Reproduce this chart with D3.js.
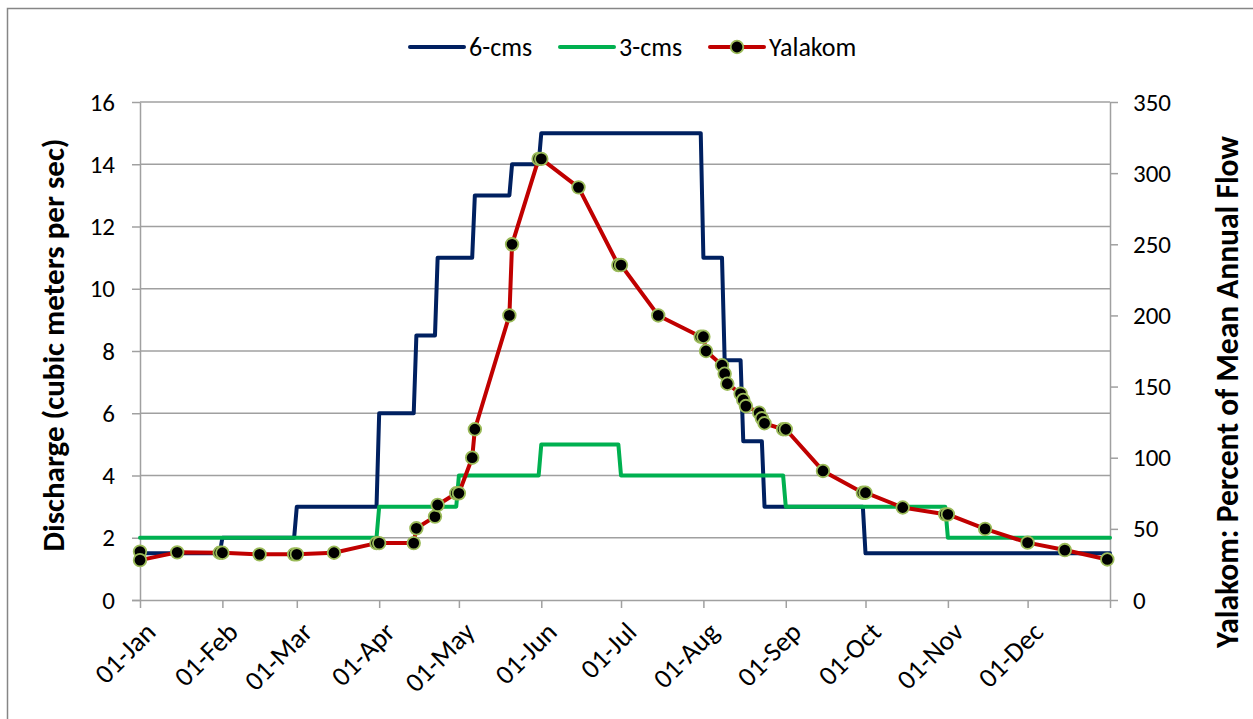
<!DOCTYPE html>
<html>
<head>
<meta charset="utf-8">
<script src="https://cdn.jsdelivr.net/npm/d3@7"></script>
<style>
  html, body { margin: 0; padding: 0; background: #fff; }
  svg { display: block; font-family: Carlito, Lato, "Open Sans", sans-serif; }
</style>
</head>
<body>
<svg id="chart" width="1253" height="719"></svg>
<script>
// Flow regimes: step changes [date the value starts, discharge in m³/s]
const steps6cms = [
  ["2013-01-01", 1.5], ["2013-02-01", 2], ["2013-03-01", 3], ["2013-04-01", 6],
  ["2013-04-15", 8.5], ["2013-04-23", 11], ["2013-05-07", 13], ["2013-05-21", 14],
  ["2013-06-01", 15], ["2013-08-01", 11], ["2013-08-09", 7.7], ["2013-08-16", 5.1],
  ["2013-08-24", 3], ["2013-10-01", 1.5]
];
const steps3cms = [
  ["2013-01-01", 2], ["2013-04-01", 3], ["2013-05-01", 4], ["2013-06-01", 5],
  ["2013-07-01", 4], ["2013-09-01", 3], ["2013-11-01", 2]
];
const yearEnd = "2014-01-01";

// Yalakom hydrograph: [date, percent of mean annual flow]
const yalakomDates = [
  "2013-01-01", "2013-01-01", "2013-01-15", "2013-01-31", "2013-02-01", "2013-02-15",
  "2013-02-28", "2013-03-01", "2013-03-15", "2013-03-31", "2013-04-01", "2013-04-14",
  "2013-04-15", "2013-04-22", "2013-04-23", "2013-04-30", "2013-05-01", "2013-05-06",
  "2013-05-07", "2013-05-20", "2013-05-21", "2013-05-31", "2013-06-01", "2013-06-15",
  "2013-06-30", "2013-07-01", "2013-07-15", "2013-07-31", "2013-08-01", "2013-08-02",
  "2013-08-08", "2013-08-09", "2013-08-10", "2013-08-15", "2013-08-16", "2013-08-17",
  "2013-08-22", "2013-08-23", "2013-08-24", "2013-08-31", "2013-09-01", "2013-09-15",
  "2013-09-30", "2013-10-01", "2013-10-15", "2013-10-31", "2013-11-01", "2013-11-15",
  "2013-12-01", "2013-12-15", "2013-12-31"
];
const yalakomPct = [
  34, 28, 33.5, 33.2, 33.2, 32.1,
  32.1, 32.1, 33.2, 40, 40, 40,
  50.4, 58.6, 66.8, 75, 75, 100,
  120, 200, 250, 310, 310, 290,
  235.4, 235.4, 200, 185, 185, 175,
  165, 159, 152, 145, 140.6, 136.3,
  131.6, 127.7, 124.2, 120, 120, 90.7,
  75.4, 75.4, 65, 60.2, 60.2, 50,
  40.3, 35.1, 28.5
];

const leftTicks = [0, 2, 4, 6, 8, 10, 12, 14, 16];
const rightTicks = [0, 50, 100, 150, 200, 250, 300, 350];
const leftTitle = "Discharge (cubic meters per sec)";
const rightTitle = "Yalakom: Percent of Mean Annual Flow";
const seriesNames = ["6-cms", "3-cms", "Yalakom"];
const colors = { "6-cms": "#002060", "3-cms": "#00B050", "Yalakom": "#C00000" };

const parse = d3.utcParse("%Y-%m-%d");
const fmt = d3.utcFormat("%d-%b");

const svg = d3.select("#chart");
const plot = { left: 140, right: 1110, top: 102, bottom: 600 };

const x = d3.scaleUtc()
  .domain([parse("2013-01-01"), parse(yearEnd)])
  .range([plot.left, plot.right]);
const yL = d3.scaleLinear().domain([0, 16]).range([plot.bottom, plot.top]);
const yR = d3.scaleLinear().domain([0, 350]).range([plot.bottom, plot.top]);

const gridCol = "#A0A0A0";
const fontSize = 25;
const xLabelSize = 27.5;
const legendSize = 26;
const titleSize = 31;

// outer chart frame
svg.append("rect")
  .attr("x", 7.5).attr("y", 8.5).attr("width", 1260).attr("height", 720)
  .attr("fill", "#fff").attr("stroke", "#868686").attr("stroke-width", 1.5);

// horizontal gridlines
svg.append("g").selectAll("line")
  .data(leftTicks.filter(d => d > 0))
  .join("line")
  .attr("x1", plot.left).attr("x2", plot.right)
  .attr("y1", d => yL(d)).attr("y2", d => yL(d))
  .attr("stroke", gridCol).attr("stroke-width", 1.5);

// axes
function styleAxis(g, size) {
  g.select(".domain").attr("stroke", gridCol).attr("stroke-width", 1.5);
  g.selectAll(".tick line").attr("stroke", gridCol).attr("stroke-width", 1.5);
  g.selectAll("text").attr("fill", "#000").style("font-size", size + "px")
    .style("font-family", "Carlito, Lato, 'Open Sans', sans-serif");
}

svg.append("g")
  .attr("transform", `translate(${plot.left},0)`)
  .call(d3.axisLeft(yL).tickValues(leftTicks).tickSize(8).tickPadding(17).tickSizeOuter(0))
  .call(styleAxis, fontSize);

svg.append("g")
  .attr("transform", `translate(${plot.right},0)`)
  .call(d3.axisRight(yR).tickValues(rightTicks).tickSize(8).tickPadding(15).tickSizeOuter(0))
  .call(styleAxis, fontSize);

const monthTicks = d3.utcMonth.range(parse("2013-01-01"), d3.utcDay.offset(parse(yearEnd), 1));
const gX = svg.append("g")
  .attr("transform", `translate(0,${plot.bottom})`)
  .call(d3.axisBottom(x).tickValues(monthTicks)
    .tickFormat(d => +d === +parse(yearEnd) ? "" : fmt(d))
    .tickSize(8).tickSizeOuter(0))
  .call(styleAxis, xLabelSize);
gX.select(".domain").attr("d", `M${plot.left - 8},0.5H${plot.right}`);
gX.selectAll(".tick text")
  .attr("text-anchor", "end")
  .attr("dy", "0.35em")
  .attr("transform", "translate(10,27) rotate(-45)")
  .attr("y", 0).attr("x", 0);

// axis titles
svg.append("text")
  .attr("transform", "translate(64,345) rotate(-90)")
  .attr("text-anchor", "middle")
  .style("font-size", titleSize + "px").style("font-weight", "bold")
  .text(leftTitle);
svg.append("text")
  .attr("transform", "translate(1238,392) rotate(-90)")
  .attr("text-anchor", "middle")
  .style("font-size", (titleSize + 0.5) + "px").style("font-weight", "bold")
  .text(rightTitle);

// step series: each change drawn as a one-day transition
function stepPoints(steps) {
  const pts = [];
  steps.forEach(([d, v], i) => {
    const t = parse(d);
    if (i > 0) pts.push([d3.utcDay.offset(t, -1), steps[i - 1][1]]);
    pts.push([t, v]);
  });
  pts.push([parse(yearEnd), steps[steps.length - 1][1]]);
  return pts;
}

const lineL = d3.line().x(d => x(d[0])).y(d => yL(d[1]));
const lineR = d3.line().x(d => x(d[0])).y(d => yR(d[1]));

svg.append("path")
  .attr("d", lineL(stepPoints(steps6cms)))
  .attr("fill", "none").attr("stroke", colors["6-cms"]).attr("stroke-width", 4)
  .attr("stroke-linejoin", "round").attr("stroke-linecap", "round");

svg.append("path")
  .attr("d", lineL(stepPoints(steps3cms)))
  .attr("fill", "none").attr("stroke", colors["3-cms"]).attr("stroke-width", 4)
  .attr("stroke-linejoin", "round").attr("stroke-linecap", "round");

const yalakom = yalakomDates.map((d, i) => [parse(d), yalakomPct[i]]);
svg.append("path")
  .attr("d", lineR(yalakom))
  .attr("fill", "none").attr("stroke", colors["Yalakom"]).attr("stroke-width", 4)
  .attr("stroke-linejoin", "round").attr("stroke-linecap", "round");

svg.append("g").selectAll("circle")
  .data(yalakom)
  .join("circle")
  .attr("cx", d => x(d[0])).attr("cy", d => yR(d[1]))
  .attr("r", 6.3).attr("fill", "#000")
  .attr("stroke", "#9BBB59").attr("stroke-width", 1.8);

// legend
const legendX = [410, 560, 710];
const lg = svg.append("g");
seriesNames.forEach((name, i) => {
  const g = lg.append("g").attr("transform", `translate(${legendX[i]},47)`);
  g.append("line").attr("x1", 0).attr("x2", 54).attr("y1", 0).attr("y2", 0)
    .attr("stroke", colors[name]).attr("stroke-width", 4).attr("stroke-linecap", "round");
  if (name === "Yalakom") {
    g.append("circle").attr("cx", 27).attr("cy", 0).attr("r", 6.3)
      .attr("fill", "#000").attr("stroke", "#9BBB59").attr("stroke-width", 1.8);
  }
  g.append("text").attr("x", 59).attr("y", 0).attr("dy", "0.35em")
    .style("font-size", legendSize + "px").text(name);
});
</script>
</body>
</html>
